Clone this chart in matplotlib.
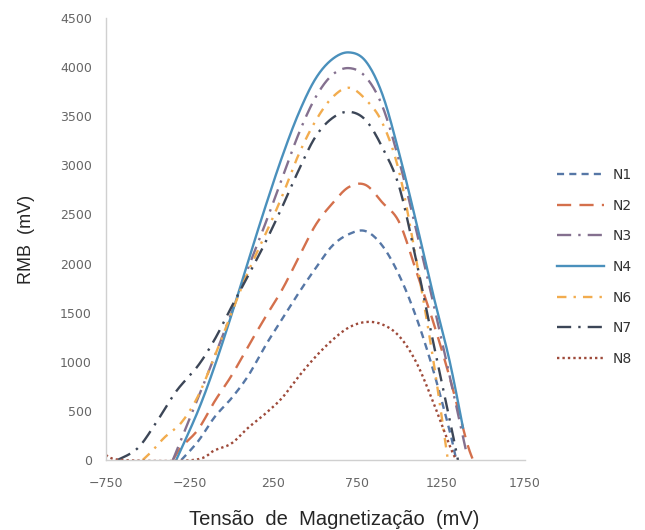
import matplotlib
matplotlib.use("Agg")
import matplotlib.pyplot as plt
import numpy as np

# Data (x in mV, RMB in mV)
x_n1 = [-300, -200, -100, 0, 100, 200, 300, 400, 500, 600, 700, 800, 900, 1000, 1100, 1200, 1300, 1340]
y_n1 = [0, 190, 440, 630, 860, 1160, 1430, 1700, 1950, 2180, 2300, 2330, 2180, 1880, 1460, 930, 300, 0]

x_n2 = [-350, -300, -200, -100, 0, 100, 200, 300, 400, 500, 600, 700, 800, 900, 1000, 1100, 1200, 1300, 1400, 1440]
y_n2 = [0, 130, 310, 600, 860, 1160, 1450, 1730, 2060, 2390, 2610, 2780, 2800, 2620, 2420, 1930, 1420, 845, 200, 0]

x_n3 = [-350, -300, -200, -100, 0, 100, 200, 300, 400, 500, 600, 700, 800, 900, 1000, 1100, 1200, 1300, 1400]
y_n3 = [0, 210, 630, 1060, 1500, 1960, 2400, 2860, 3320, 3690, 3920, 3990, 3900, 3600, 3040, 2350, 1620, 860, 80]

x_n4 = [-330, -200, -100, 0, 100, 200, 300, 400, 500, 600, 700, 800, 900, 1000, 1100, 1200, 1300, 1380]
y_n4 = [0, 500, 960, 1480, 2030, 2570, 3080, 3530, 3880, 4080, 4150, 4060, 3720, 3120, 2430, 1700, 1010, 330]

x_n6 = [-530, -480, -400, -300, -200, -100, 0, 100, 200, 300, 400, 500, 600, 700, 800, 900, 1000, 1100, 1200, 1290]
y_n6 = [0, 80, 230, 380, 650, 1060, 1500, 1920, 2290, 2680, 3110, 3450, 3690, 3790, 3670, 3430, 2930, 2050, 1050, 0]

x_n7 = [-680, -560, -450, -330, -200, -100, 0, 100, 200, 300, 400, 500, 600, 700, 800, 900, 1000, 1100, 1200, 1300, 1350]
y_n7 = [0, 120, 380, 700, 960, 1230, 1560, 1880, 2210, 2570, 2950, 3290, 3480, 3545, 3460, 3180, 2780, 2040, 1220, 420, 0]

x_n8 = [-750, -650, -230, -100, 0, 100, 200, 300, 400, 500, 600, 700, 800, 900, 1000, 1100, 1200, 1300, 1340]
y_n8 = [50, 0, 0, 100, 170, 330, 470, 630, 850, 1050, 1220, 1350, 1405, 1380, 1260, 1000, 600, 150, 0]

series_names = ["N1", "N2", "N3", "N4", "N6", "N7", "N8"]
x_ticks = [-750, -250, 250, 750, 1250, 1750]
y_ticks = [0, 500, 1000, 1500, 2000, 2500, 3000, 3500, 4000, 4500]

xs = [x_n1, x_n2, x_n3, x_n4, x_n6, x_n7, x_n8]
ys = [y_n1, y_n2, y_n3, y_n4, y_n6, y_n7, y_n8]
colors = ["#5677a6", "#d4704c", "#84708f", "#4a90bc", "#f2ac4e", "#3c4657", "#9e4a3a"]
styles = [(0, (3, 2.2)), (0, (6, 3.5)), (0, (6, 3, 1, 3)), "-", (0, (4, 3, 1, 3)),
          (0, (6, 3, 1, 3)), (0, (1, 1.3))]


def smooth_path(x, y, n=20):
    """Excel-style smoothed line: cubic Bezier through the given points."""
    p = np.column_stack([x, y]).astype(float)
    m = len(p)
    out = [p[0]]
    t = np.linspace(0, 1, n)[1:, None]
    for i in range(m - 1):
        p0 = p[i - 1] if i > 0 else p[i]
        p1 = p[i]
        p2 = p[i + 1]
        p3 = p[i + 2] if i + 2 < m else p[i + 1]
        c1 = p1 + (p2 - p0) / 6.0
        c2 = p2 - (p3 - p1) / 6.0
        seg = ((1 - t) ** 3) * p1 + 3 * ((1 - t) ** 2) * t * c1 + 3 * (1 - t) * t ** 2 * c2 + t ** 3 * p2
        out.extend(seg)
    out = np.array(out)
    return out[:, 0], out[:, 1]


fig = plt.figure(figsize=(6.45, 5.30), dpi=100)
ax = fig.add_axes([0.164, 0.132, 0.650, 0.834])

for x, y, c, ls, name in zip(xs, ys, colors, styles, series_names):
    sx, sy = smooth_path(x, y)
    ax.plot(sx, sy, color=c, linestyle=ls, linewidth=1.7, label=name)

ax.set_xlim(-750, 1750)
ax.set_ylim(0, 4500)
ax.set_xticks(x_ticks)
ax.set_yticks(y_ticks)
for s in ["top", "right"]:
    ax.spines[s].set_visible(False)
for s in ["left", "bottom"]:
    ax.spines[s].set_color("#d0d0d0")
    ax.spines[s].set_linewidth(1.0)
ax.tick_params(length=0, labelsize=9, labelcolor="#666666")
ax.tick_params(axis="x", pad=12)
ax.tick_params(axis="y", pad=10)

ax.set_xlabel("Tensão  de  Magnetização  (mV)", fontsize=14.5, color="#262626",
              family="Liberation Sans")
ax.xaxis.set_label_coords(0.544, -0.112)
ax.set_ylabel("RMB  (mV)", fontsize=13, color="#262626", family="Liberation Sans", labelpad=18)

leg = fig.legend(loc="upper left", bbox_to_anchor=(0.863, 0.683), frameon=False,
                 fontsize=10, handlelength=3.4, labelspacing=1.2, handletextpad=0.6,
                 borderpad=0, borderaxespad=0)
for t in leg.get_texts():
    t.set_color("#333333")

fig.savefig("out.png", dpi=100)
